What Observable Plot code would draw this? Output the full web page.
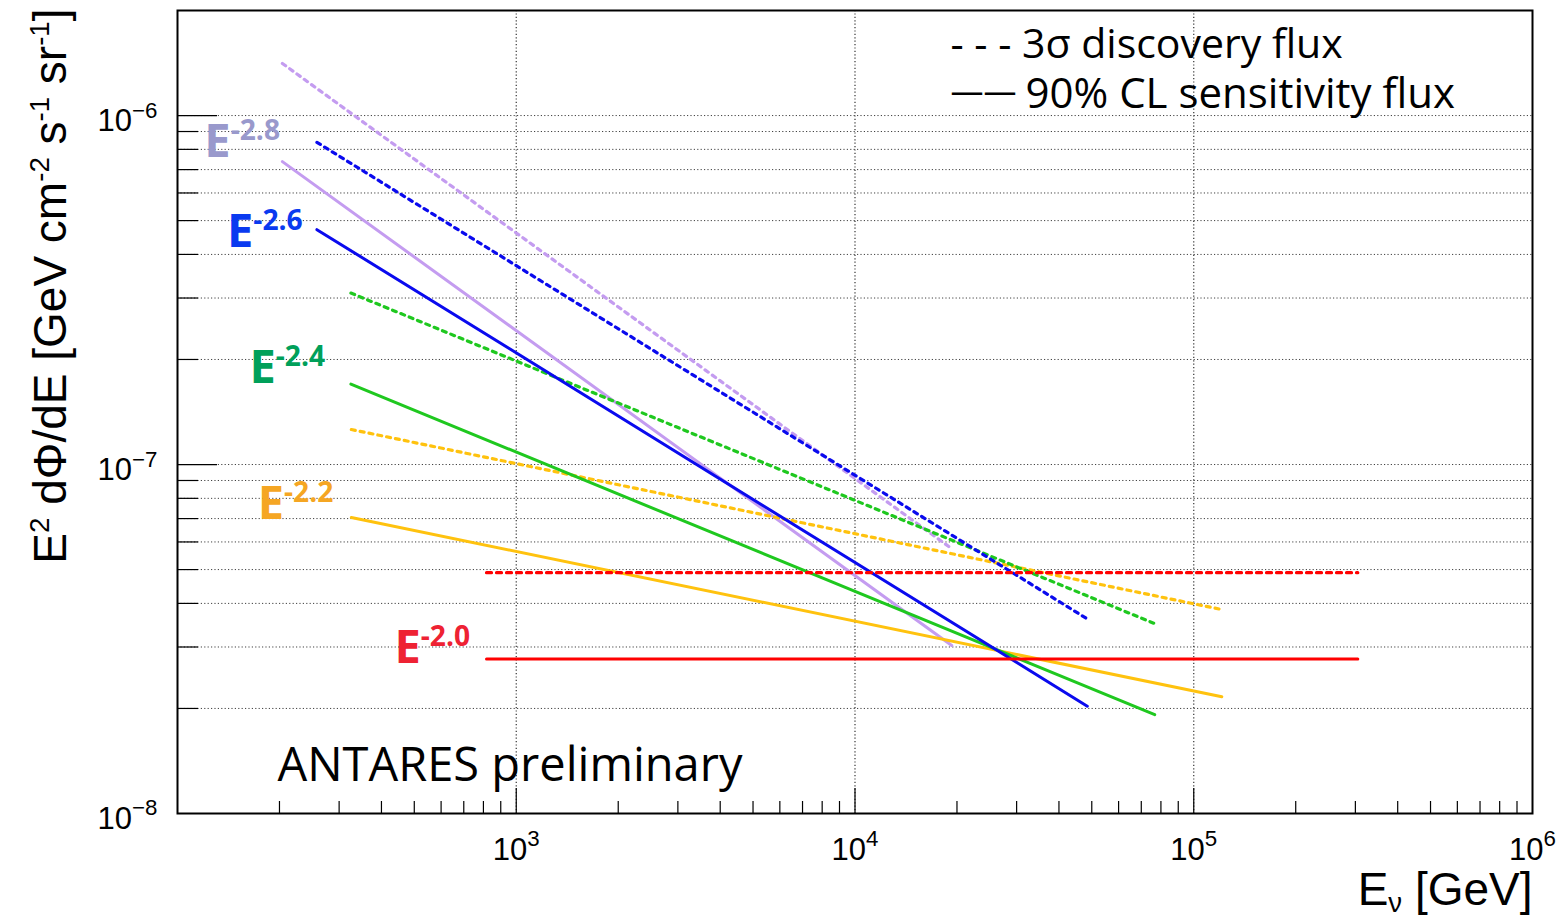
<!DOCTYPE html>
<html>
<head>
<meta charset="utf-8">
<script src="https://cdn.jsdelivr.net/npm/d3@7"></script>
<script src="https://cdn.jsdelivr.net/npm/@observablehq/plot@0.6"></script>
<style>
  html, body { margin: 0; padding: 0; background: #fff; }
  svg { display: block; }
</style>
</head>
<body>
<div id="chart"></div>
<script>
// Spectral indices of the E^-γ source spectra
const indices = ["-2.0", "-2.2", "-2.4", "-2.6", "-2.8"];
// Energy range covered by each spectrum [GeV]
const energyMin = [817, 326, 325, 258, 204];
const energyMax = [3.05e5, 1.21e5, 7.67e4, 4.85e4, 1.93e4];
// 90% CL sensitivity flux, E² dΦ/dE at both ends of the range
const sensitivityLow  = [2.77e-8, 7.05e-8, 1.70e-7, 4.71e-7, 7.38e-7];
const sensitivityHigh = [2.77e-8, 2.16e-8, 1.92e-8, 2.03e-8, 3.03e-8];
// 3σ discovery flux at both ends of the range
const discoveryLow  = [4.90e-8, 1.26e-7, 3.10e-7, 8.38e-7, 1.41e-6];
const discoveryHigh = [4.90e-8, 3.84e-8, 3.50e-8, 3.61e-8, 5.74e-8];

// Tick values and labels
const xMajorTicks = [1e3, 1e4, 1e5];
const xTickLabels = ["10^{3}", "10^{4}", "10^{5}", "10^{6}"];
const xLabelValues = [1e3, 1e4, 1e5, 1e6];
const yMajorTicks = [1e-8, 1e-7, 1e-6];
const yTickLabels = ["10^{−8}", "10^{−7}", "10^{−6}"];

const lineColors  = {"-2.0": "#ff0000", "-2.2": "#ffc20e", "-2.4": "#1fc81f", "-2.6": "#0a0aee", "-2.8": "#c49cf0"};
const labelColors = {"-2.0": "#ee2233", "-2.2": "#f5a623", "-2.4": "#00a05a", "-2.6": "#0a3af0", "-2.8": "#9999cc"};

// One row per curve end point
const curves = indices.flatMap((index, i) => [
  {index, kind: "sensitivity", energy: energyMin[i], flux: sensitivityLow[i]},
  {index, kind: "sensitivity", energy: energyMax[i], flux: sensitivityHigh[i]},
  {index, kind: "discovery",   energy: energyMin[i], flux: discoveryLow[i]},
  {index, kind: "discovery",   energy: energyMax[i], flux: discoveryHigh[i]}
]);

// Minor ticks of the log axes
const xMinorTicks = [1e2, 1e3, 1e4, 1e5].flatMap(d => d3.range(2, 10).map(m => m * d));
const yMinorTicks = [1e-8, 1e-7].flatMap(d => d3.range(2, 10).map(m => m * d));
const yGrid = [...yMinorTicks, 1e-7, 1e-6].sort((a, b) => a - b);

const W = 1557, H = 917;
const mL = 177, mR = 25, mT = 10, mB = 104;
const frameW = W - mL - mR, frameH = H - mT - mB;

const sansTick = "'Liberation Sans', Arial, Helvetica, sans-serif";
const sansText = "'Open Sans', 'Noto Sans', sans-serif";

// Draw order of the spectra
const drawOrder = ["-2.8", "-2.2", "-2.4", "-2.6", "-2.0"];

const lineMarks = drawOrder.flatMap(index => [
  Plot.line(curves.filter(d => d.index === index && d.kind === "discovery"), {
    x: "energy", y: "flux", stroke: lineColors[index], strokeWidth: 3.2,
    strokeDasharray: index === "-2.0" ? "5,5" : "4,5"
  }),
  Plot.line(curves.filter(d => d.index === index && d.kind === "sensitivity"), {
    x: "energy", y: "flux", stroke: lineColors[index], strokeWidth: 3
  })
]);

// Spectrum labels, placed in data space next to their curves
const spectrumLabels = [
  {index: "-2.8", energy: 120, flux: 7.6e-7},
  {index: "-2.6", energy: 140, flux: 4.19e-7},
  {index: "-2.4", energy: 163, flux: 1.71e-7},
  {index: "-2.2", energy: 172.5, flux: 6.99e-8},
  {index: "-2.0", energy: 437, flux: 2.70e-8}
];

const svg = Plot.plot({
  width: W, height: H,
  marginLeft: mL, marginRight: mR, marginTop: mT, marginBottom: mB,
  x: {type: "log", domain: [1e2, 1e6], axis: null},
  y: {type: "log", domain: [1e-8, 2e-6], axis: null},
  style: {background: "#fff", fontFamily: sansTick, color: "#000"},
  marks: [
    // dotted grid
    Plot.ruleY(yGrid, {y: d => d, stroke: "#000", strokeOpacity: 0.75, strokeDasharray: "1.2,2.2", strokeWidth: 1}),
    Plot.ruleX(xMajorTicks, {x: d => d, stroke: "#000", strokeOpacity: 0.8, strokeDasharray: "1.2,2.2", strokeWidth: 1.2}),
    // ticks pointing into the frame
    Plot.tickX(xMajorTicks, {x: d => d, insetTop: frameH - 25, stroke: "#000", strokeWidth: 1.2}),
    Plot.tickX(xMinorTicks, {x: d => d, insetTop: frameH - 12, stroke: "#000", strokeWidth: 1.2}),
    Plot.tickY(yMajorTicks, {y: d => d, insetRight: frameW - 40, stroke: "#000", strokeWidth: 1.2}),
    Plot.tickY(yMinorTicks, {y: d => d, insetRight: frameW - 21, stroke: "#000", strokeWidth: 1.2}),
    ...lineMarks,
    // tick labels
    Plot.text(xLabelValues, {x: d => d, frameAnchor: "bottom", text: (d, i) => xTickLabels[i],
      dy: 46, lineAnchor: "bottom", textAnchor: "middle", fontSize: 31, fill: "#000"}),
    Plot.text(yMajorTicks, {y: d => d, frameAnchor: "left", text: (d, i) => yTickLabels[i],
      dx: -20, dy: 15, lineAnchor: "bottom", textAnchor: "end", fontSize: 31, fill: "#000"}),
    // axis titles
    Plot.text(["E_{ν} [GeV]"], {frameAnchor: "bottom-right", text: d => d, dy: 91,
      lineAnchor: "bottom", textAnchor: "end", fontSize: 46, fill: "#000"}),
    Plot.text(["E^{2} dΦ/dE [GeV cm^{-2} s^{-1} sr^{-1}]"], {frameAnchor: "top-left", text: d => d,
      rotate: -90, dx: -112, dy: -2, lineAnchor: "bottom", textAnchor: "end", fontSize: 46, fill: "#000"}),
    // spectrum labels
    Plot.text(spectrumLabels, {x: "energy", y: "flux", text: d => "E^{" + d.index + "}",
      fill: d => labelColors[d.index], fontFamily: sansText, fontWeight: 700, fontSize: 47,
      lineAnchor: "bottom", textAnchor: "start"}),
    // legend
    Plot.text(["- - - 3σ discovery flux"], {frameAnchor: "top-left", text: d => d, dx: 773, dy: 47,
      lineAnchor: "bottom", textAnchor: "start", fontFamily: sansText, fontSize: 41, fill: "#000"}),
    Plot.text(["——"], {frameAnchor: "top-left", text: d => d, dx: 773, dy: 92,
      lineAnchor: "bottom", textAnchor: "start", fontFamily: sansText, fontSize: 33, fill: "#000"}),
    Plot.text(["90% CL sensitivity flux"], {frameAnchor: "top-left", text: d => d, dx: 848, dy: 97,
      lineAnchor: "bottom", textAnchor: "start", fontFamily: sansText, fontSize: 42, fill: "#000"}),
    Plot.text(["ANTARES preliminary"], {frameAnchor: "top-left", text: d => d, dx: 100, dy: 770,
      lineAnchor: "bottom", textAnchor: "start", fontFamily: sansText, fontSize: 47, fill: "#000"}),
    Plot.frame({stroke: "#000", strokeWidth: 2})
  ]
});

document.getElementById("chart").append(svg);

// Turn ^{...} and _{...} into raised / lowered tspans
function applyScripts(root) {
  const NS = "http://www.w3.org/2000/svg";
  root.querySelectorAll("text").forEach(t => {
    const raw = t.textContent;
    if (!/[\^_]\{/.test(raw)) return;
    const fs = parseFloat(getComputedStyle(t).fontSize);
    const big = fs >= 40;
    const ratio = big ? 0.6 : 0.72;
    const up = (big ? 0.36 : 0.42) * fs;
    const down = 0.16 * fs;
    const parts = raw.split(/(\^\{[^}]*\}|_\{[^}]*\})/).filter(s => s.length);
    while (t.firstChild) t.removeChild(t.firstChild);
    let cur = 0;
    for (const p of parts) {
      const span = document.createElementNS(NS, "tspan");
      let target = 0, txt = p;
      if (p.startsWith("^{")) { target = -up; txt = p.slice(2, -1); span.setAttribute("font-size", ratio * fs); }
      else if (p.startsWith("_{")) { target = down; txt = p.slice(2, -1); span.setAttribute("font-size", ratio * fs); }
      if (target !== cur) span.setAttribute("dy", target - cur);
      cur = target;
      span.textContent = txt;
      t.appendChild(span);
    }
  });
}
applyScripts(svg);
</script>
</body>
</html>
